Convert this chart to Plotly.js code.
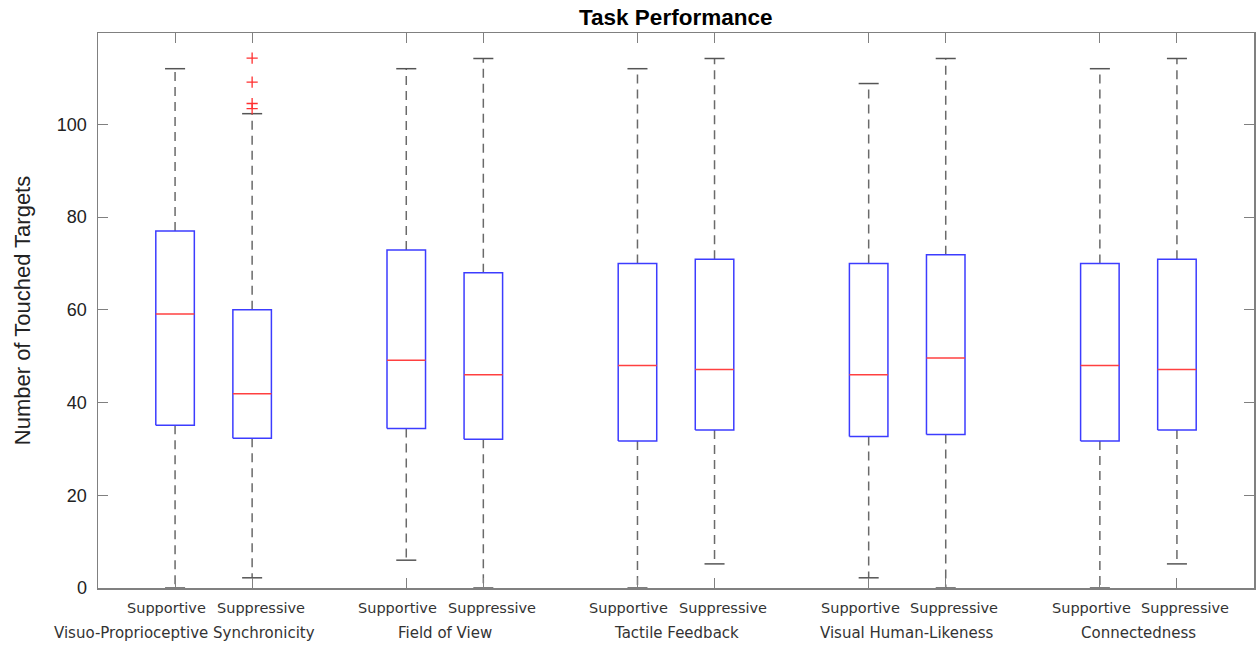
<!DOCTYPE html>
<html>
<head>
<meta charset="utf-8">
<script src="https://cdn.plot.ly/plotly-3.0.1.min.js"></script>
<style>html,body{margin:0;padding:0;background:#fff;}#chart{width:1256px;height:645px;}</style>
</head>
<body>
<div id="chart"></div>
<script>
// ---- data ----
var positions = [1, 2, 4, 5, 7, 8, 10, 11, 13, 14];
var conditions = ['Supportive', 'Suppressive', 'Supportive', 'Suppressive', 'Supportive', 'Suppressive', 'Supportive', 'Suppressive', 'Supportive', 'Suppressive'];
var groups = ['Visuo-Proprioceptive Synchronicity', 'Field of View', 'Tactile Feedback', 'Visual Human-Likeness', 'Connectedness'];
var lowerWhisker = [0, 2.2, 6, 0, 0, 5.2, 2.2, 0, 0, 5.2];
var q1 = [35.1, 32.3, 34.4, 32.1, 31.7, 34.1, 32.7, 33.1, 31.7, 34.1];
var median = [59.1, 41.9, 49.1, 46.0, 48.0, 47.1, 46.0, 49.6, 48.0, 47.1];
var q3 = [77.0, 60.0, 72.9, 68.0, 70.0, 70.9, 70.0, 71.9, 70.0, 70.9];
var upperWhisker = [112, 102.3, 112, 114.2, 112, 114.2, 108.8, 114.2, 112, 114.2];
var outlierBox = [1, 1, 1, 1];          // index into positions
var outlierValues = [114.3, 109.1, 104.5, 103.4];
var yTicks = [0, 20, 40, 60, 80, 100];

// ---- styling constants ----
var boxHalf = 0.25, capHalf = 0.13;
var axisGray = '#808080';

var wx = [], wy = [], cx = [], cy = [], bx = [], by = [], mx = [], my = [];
positions.forEach(function (p, i) {
  wx.push(p, p, null, p, p, null);
  wy.push(q3[i], upperWhisker[i], null, q1[i], lowerWhisker[i], null);
  cx.push(p - capHalf, p + capHalf, null, p - capHalf, p + capHalf, null);
  cy.push(upperWhisker[i], upperWhisker[i], null, lowerWhisker[i], lowerWhisker[i], null);
  bx.push(p - boxHalf, p + boxHalf, p + boxHalf, p - boxHalf, p - boxHalf, null);
  by.push(q1[i], q1[i], q3[i], q3[i], q1[i], null);
  mx.push(p - boxHalf, p + boxHalf, null);
  my.push(median[i], median[i], null);
});
var ox = outlierBox.map(function (b) { return positions[b]; });

var traces = [
  {x: wx, y: wy, mode: 'lines', line: {color: '#6a6a6a', width: 1.5, dash: '9px,6px'}, hoverinfo: 'skip'},
  {x: cx, y: cy, mode: 'lines', line: {color: '#555', width: 1.5}, hoverinfo: 'skip'},
  {x: bx, y: by, mode: 'lines', line: {color: '#3c3cff', width: 1.5}, hoverinfo: 'skip'},
  {x: mx, y: my, mode: 'lines', line: {color: '#ff4040', width: 1.5}, hoverinfo: 'skip'},
  {x: ox, y: outlierValues, mode: 'markers', marker: {symbol: 'cross-thin-open', size: 8, color: '#ff3030', line: {color: '#ff3030', width: 1.3}}, hoverinfo: 'skip'}
];

var labelFont = {family: 'DejaVu Sans', size: 14.5, color: '#333'};
var annotations = conditions.map(function (c, i) {
  return {
    text: c, x: positions[i], xref: 'x', y: 0, yref: 'paper', yanchor: 'middle', xanchor: 'center',
    xshift: i % 2 === 0 ? -8.5 : 8.5, yshift: -20, showarrow: false, font: labelFont
  };
}).concat(groups.map(function (g, k) {
  var first = k === 0;
  var xc = first ? positions[1] + 0.84 : (positions[2 * k] + positions[2 * k + 1]) / 2;
  return {
    text: g, x: xc, xref: 'x', y: 0, yref: 'paper', yanchor: 'middle', xanchor: first ? 'right' : 'center',
    yshift: -45, showarrow: false, font: {family: 'DejaVu Sans', size: 15, color: '#333'}
  };
}));

var layout = {
  width: 1256, height: 645,
  margin: {l: 98, r: 2, t: 33, b: 57},
  paper_bgcolor: '#fff', plot_bgcolor: '#fff',
  showlegend: false,
  title: {text: '<b>Task Performance</b>', x: 0.538, xanchor: 'center', y: 0.974, yanchor: 'middle',
          font: {family: 'Liberation Sans', size: 22.5, color: '#000'}},
  xaxis: {
    range: [0, 15], tickmode: 'array', tickvals: positions, showticklabels: false,
    ticks: 'inside', ticklen: 10, tickcolor: axisGray, tickwidth: 1,
    showline: true, linecolor: axisGray, linewidth: 1.5, mirror: 'ticks',
    showgrid: false, zeroline: false
  },
  yaxis: {
    range: [0, 119.7], tickmode: 'array', tickvals: yTicks,
    ticks: 'inside', ticklen: 10, tickcolor: axisGray, tickwidth: 1,
    showline: true, linecolor: axisGray, linewidth: 1.5, mirror: 'ticks',
    showgrid: false, zeroline: false,
    tickfont: {family: 'Liberation Sans', size: 18, color: '#222'}, ticklabelstandoff: 6,
    title: {text: 'Number of Touched Targets', font: {family: 'Liberation Sans', size: 22, color: '#222'}, standoff: 20}
  },
  annotations: annotations
};

Plotly.newPlot('chart', traces, layout, {staticPlot: true, displayModeBar: false});
</script>
</body>
</html>
